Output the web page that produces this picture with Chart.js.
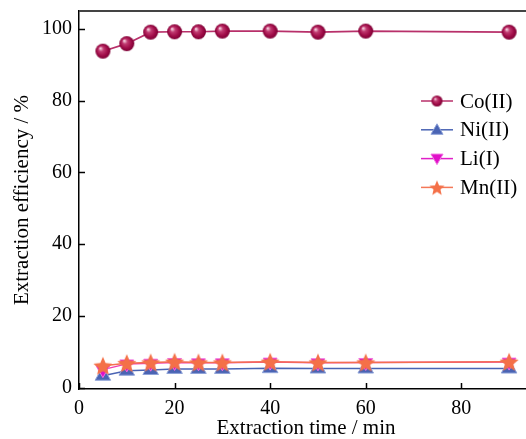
<!DOCTYPE html>
<html>
<head>
<meta charset="utf-8">
<script src="https://cdn.jsdelivr.net/npm/chart.js@4"></script>
<style>
  html, body { margin: 0; padding: 0; background: #fff; overflow: hidden; }
  #box { width: 533px; height: 439px; }
</style>
</head>
<body>
<div id="box"><canvas id="grafico" width="533" height="439"></canvas></div>
<script>
// dados
let tempos = [5, 10, 15, 20, 25, 30, 40, 50, 60, 90];
let cobalto = [93.8, 95.9, 99.1, 99.2, 99.2, 99.4, 99.4, 99.1, 99.4, 99.1];
let niquel = [3.3, 4.7, 4.9, 5.2, 5.2, 5.2, 5.4, 5.3, 5.3, 5.3];
let litio = [5.0, 6.6, 6.8, 7.0, 6.9, 6.9, 7.1, 6.9, 7.0, 7.1];
let manganes = [6.1, 6.8, 7.0, 7.2, 7.0, 7.0, 7.2, 7.0, 7.0, 7.2];
let nomes = ["Co(II)", "Ni(II)", "Li(I)", "Mn(II)"];
let ticksX = [0, 20, 40, 60, 80];
let ticksY = [0, 20, 40, 60, 80, 100];

let fonte = "Liberation Serif";

// marcadores desenhados à mão
function esfera(r) {
  let c = document.createElement("canvas");
  let t = Math.ceil(r * 2 + 2);
  c.width = t; c.height = t;
  let g = c.getContext("2d");
  let m = t / 2;
  let grad = g.createRadialGradient(m - r * 0.35, m - r * 0.4, r * 0.05, m, m, r);
  grad.addColorStop(0, "#f8d8e4");
  grad.addColorStop(0.3, "#c03a70");
  grad.addColorStop(0.7, "#a00c48");
  grad.addColorStop(1, "#7c0034");
  g.fillStyle = grad;
  g.beginPath();
  g.arc(m, m, r, 0, Math.PI * 2);
  g.fill();
  return c;
}

function estrela(r, cor) {
  let c = document.createElement("canvas");
  let t = Math.ceil(r * 2 + 2);
  c.width = t; c.height = t;
  let g = c.getContext("2d");
  let m = t / 2;
  g.beginPath();
  for (let i = 0; i < 10; i++) {
    let raio = i % 2 === 0 ? r : r * 0.45;
    let a = -Math.PI / 2 + i * Math.PI / 5;
    let px = m + Math.cos(a) * raio;
    let py = m + 1 + Math.sin(a) * raio;
    if (i === 0) g.moveTo(px, py); else g.lineTo(px, py);
  }
  g.closePath();
  g.fillStyle = cor;
  g.fill();
  return c;
}

let bola = esfera(7.5);
let bolaPequena = esfera(5.5);
let estrelaGrande = estrela(10, "#f47048");
let estrelaPequena = estrela(8, "#f47048");

// zera o espaço extra que o Chart.js reserva para os rótulos das pontas
function semPadding(s) {
  s.paddingTop = 0;
  s.paddingBottom = 0;
  s.paddingLeft = 0;
  s.paddingRight = 0;
}

// eixos, ticks para dentro, borda de cima e legenda
let extras = {
  id: "extras",
  afterDraw(chart) {
    let ctx = chart.ctx;
    let a = chart.chartArea;
    let sx = chart.scales.x;
    let sy = chart.scales.y;
    ctx.save();
    ctx.strokeStyle = "#000";
    ctx.lineWidth = 1.5;
    ticksX.forEach(v => {
      let px = Math.round(sx.getPixelForValue(v)) + 0.5;
      ctx.beginPath();
      ctx.moveTo(px, a.bottom);
      ctx.lineTo(px, a.bottom - 6);
      ctx.stroke();
    });
    ticksY.forEach(v => {
      let py = Math.round(sy.getPixelForValue(v)) + 0.5;
      ctx.beginPath();
      ctx.moveTo(a.left, py);
      ctx.lineTo(a.left + 6, py);
      ctx.stroke();
    });
    ctx.strokeStyle = "#444";
    ctx.lineWidth = 2;
    ctx.beginPath();
    ctx.moveTo(a.left, a.top);
    ctx.lineTo(a.right, a.top);
    ctx.stroke();

    // legenda
    let linhas = ["#b8306a", "#4a64b4", "#e020c8", "#f47858"];
    let y0 = 101;
    for (let i = 0; i < nomes.length; i++) {
      let y = y0 + i * 28.8;
      ctx.strokeStyle = linhas[i];
      ctx.lineWidth = 1.5;
      ctx.beginPath();
      ctx.moveTo(421, y);
      ctx.lineTo(453, y);
      ctx.stroke();
      if (i === 0) {
        ctx.drawImage(bolaPequena, 437 - bolaPequena.width / 2, y - bolaPequena.height / 2);
      } else if (i === 1) {
        ctx.fillStyle = "#4a64b4";
        ctx.strokeStyle = "#8ea2d8";
        ctx.lineWidth = 1;
        Chart.helpers.drawPoint(ctx, { pointStyle: "triangle", radius: 7, rotation: 0, borderWidth: 1 }, 437, y + 1);
      } else if (i === 2) {
        ctx.fillStyle = "#e010c8";
        ctx.strokeStyle = "#f070e0";
        ctx.lineWidth = 1;
        Chart.helpers.drawPoint(ctx, { pointStyle: "triangle", radius: 7, rotation: 180, borderWidth: 1 }, 437, y - 1);
      } else {
        ctx.drawImage(estrelaPequena, 437 - estrelaPequena.width / 2, y - estrelaPequena.height / 2);
      }
      ctx.fillStyle = "#000";
      ctx.font = "21px '" + fonte + "'";
      ctx.textBaseline = "middle";
      ctx.textAlign = "left";
      ctx.fillText(nomes[i], 460, y + 1);
    }
    ctx.restore();
  }
};

let ctx = document.getElementById("grafico").getContext("2d");

let chart = new Chart(ctx, {
  type: "line",
  data: {
    datasets: [
      {
        label: nomes[0],
        data: tempos.map((t, i) => ({ x: t, y: cobalto[i] })),
        borderColor: "#b8306a",
        borderWidth: 1.6,
        pointStyle: bola,
        order: 3
      },
      {
        label: nomes[1],
        data: tempos.map((t, i) => ({ x: t, y: niquel[i] })),
        borderColor: "#4a64b4",
        backgroundColor: "#4a64b4",
        pointBorderColor: "#8ea2d8",
        pointBorderWidth: 1,
        borderWidth: 1.5,
        pointStyle: "triangle",
        pointRadius: 9,
        order: 2
      },
      {
        label: nomes[2],
        data: tempos.map((t, i) => ({ x: t, y: litio[i] })),
        borderColor: "#f03cb0",
        backgroundColor: "#e010c8",
        pointBorderColor: "#f070e0",
        pointBorderWidth: 1,
        borderWidth: 1.5,
        pointStyle: "triangle",
        pointRotation: 180,
        pointRadius: 8,
        order: 1
      },
      {
        label: nomes[3],
        data: tempos.map((t, i) => ({ x: t, y: manganes[i] })),
        borderColor: "#f47050",
        borderWidth: 1.5,
        pointStyle: estrelaGrande,
        order: 0
      }
    ]
  },
  plugins: [extras],
  options: {
    responsive: false,
    animation: false,
    layout: { autoPadding: false, padding: { top: 11, right: 0, left: 0, bottom: 0 } },
    plugins: {
      legend: { display: false },
      tooltip: { enabled: false }
    },
    scales: {
      x: {
        type: "linear",
        min: 0,
        max: 95,
        afterBuildTicks: s => { s.ticks = ticksX.map(v => ({ value: v })); },
        afterFit: s => { s.height = 50; semPadding(s); },
        grid: { display: false, drawTicks: false },
        border: { display: true, color: "#000", width: 1.5 },
        ticks: {
          padding: 8,
          color: "#000",
          font: { family: fonte, size: 20 },
          maxRotation: 0
        },
        title: {
          display: true,
          text: "Extraction time / min",
          color: "#000",
          font: { family: fonte, size: 21, lineHeight: 1 },
          padding: { top: 0, bottom: 0 }
        }
      },
      y: {
        min: -0.4,
        max: 105,
        afterBuildTicks: s => { s.ticks = ticksY.map(v => ({ value: v })); },
        afterFit: s => { s.width = 79; semPadding(s); },
        grid: { display: false, drawTicks: false },
        border: { display: true, color: "#000", width: 1.5 },
        ticks: {
          padding: 7,
          color: "#000",
          font: { family: fonte, size: 20 }
        },
        title: {
          display: true,
          text: "Extraction efficiency / %",
          color: "#000",
          font: { family: fonte, size: 21, lineHeight: 1 },
          padding: { top: 12, bottom: 0 }
        }
      }
    }
  }
});
</script>
</body>
</html>
